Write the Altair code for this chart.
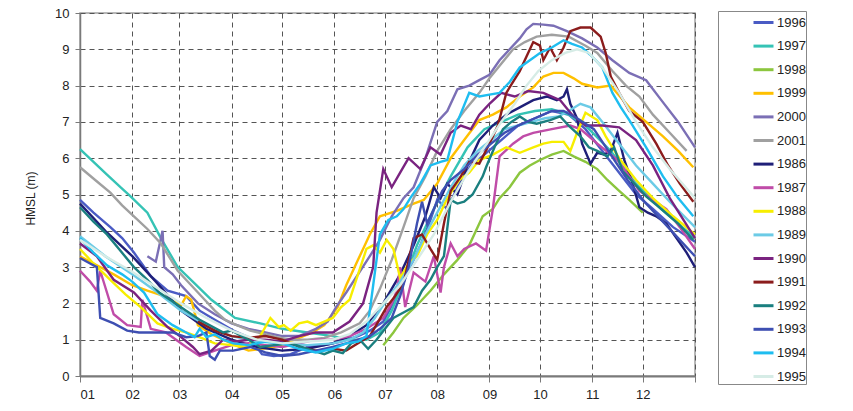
import altair as alt
import pandas as pd

# ---------------- data (day of year, HMSL in m) ----------------
years = ["1996", "1997", "1998", "1999", "2000", "2001", "1986", "1987",
         "1988", "1989", "1990", "1991", "1992", "1993", "1994", "1995"]
colors = ["#4a5bc4", "#35c3b5", "#8cc63e", "#ffc000", "#7b6fb5", "#a0a0a0",
          "#1f1f78", "#c04ca8", "#f7ee00", "#6ccbe6", "#7a2380", "#8b1c1c",
          "#1a7f7f", "#3e4fb2", "#1ebdf0", "#d6ece6"]

month_starts = [0, 31, 59, 90, 120, 151, 181, 212, 243, 273, 304, 334, 365]
month_labels = ["01", "02", "03", "04", "05", "06", "07", "08", "09", "10", "11", "12", ""]

days_1996 = [0, 8, 18, 25, 32, 42, 52, 63, 71, 80, 91, 101, 108, 115, 125, 135, 145, 155, 165, 172, 180,
             188, 196, 202, 208, 212, 218, 224, 232, 240, 250, 260, 270, 280, 290, 300, 310, 320, 330, 340, 352, 365]
hmsl_1996 = [4.85, 4.5, 4.1, 3.8, 3.4, 2.75, 2.35, 2.2, 1.8, 1.55, 1.25, 1.05, 0.6, 0.55, 0.6, 0.8, 0.85, 0.95, 1.1, 1.25, 1.5,
             2.2, 3.0, 3.6, 4.3, 4.85, 4.6, 5.2, 5.8, 6.1, 6.5, 6.9, 7.1, 7.3, 7.2, 6.8, 6.2, 5.6, 5.0, 4.6, 4.1, 3.7]

days_1997 = [0, 8, 16, 24, 30, 40, 48, 58, 68, 78, 92, 107, 120, 135, 150, 160, 170, 178, 185, 192, 200, 210,
             220, 230, 240, 250, 260, 270, 280, 290, 300, 315, 330, 345, 365]
hmsl_1997 = [6.25, 5.9, 5.55, 5.2, 4.95, 4.5, 3.8, 3.0, 2.55, 2.1, 1.6, 1.45, 1.3, 1.2, 1.1, 1.0, 1.0, 1.2, 1.8, 2.6, 3.6, 4.6,
             5.5, 6.3, 6.8, 7.0, 7.2, 7.3, 7.35, 7.2, 6.9, 6.2, 5.3, 4.6, 3.8]

days_1998 = [180, 186, 192, 200, 208, 216, 224, 231, 239, 245, 249, 255, 261, 267, 273, 280, 287, 293, 300, 307,
             313, 320, 326, 334]
hmsl_1998 = [0.85, 1.2, 1.6, 1.95, 2.35, 2.8, 3.2, 3.6, 4.4, 4.6, 4.9, 5.2, 5.6, 5.8, 5.95, 6.1, 6.2, 6.05, 5.9, 5.7,
             5.4, 5.1, 4.85, 4.5]

days_1999 = [0, 10, 20, 31, 40, 50, 60, 63, 66, 70, 78, 85, 92, 100, 108, 115, 122, 130, 138, 145, 153, 158, 165,
             172, 178, 188, 198, 204, 212, 220, 228, 237, 245, 253, 261, 269, 275, 281, 287, 293, 298, 307, 315,
             326, 336, 346, 355, 364]
hmsl_1999 = [3.3, 3.05, 2.8, 2.5, 2.35, 2.2, 1.95, 2.2, 2.1, 1.4, 1.15, 1.0, 0.85, 0.7, 0.75, 0.8, 0.9, 1.05, 1.2,
             1.4, 1.9, 2.5, 3.2, 3.9, 4.4, 4.55, 4.75, 4.85, 5.3, 6.0, 6.5, 7.05, 7.2, 7.4, 7.7, 7.95, 8.25, 8.35,
             8.35, 8.2, 8.05, 7.95, 8.0, 7.4, 7.0, 6.6, 6.2, 5.75]

days_2000 = [40, 45, 49, 50, 55, 60, 70, 80, 90, 100, 110, 120, 130, 140, 147, 152, 158, 165, 172, 178, 185, 192,
             198, 205, 212, 218, 224, 231, 237, 243, 249, 255, 261, 265, 269, 275, 281, 289, 298, 307, 316, 326,
             336, 345, 355, 365]
hmsl_2000 = [3.3, 3.15, 4.0, 3.0, 2.8, 2.5, 2.0, 1.7, 1.45, 1.3, 1.2, 1.1, 1.1, 1.3, 1.5, 1.9, 2.3, 2.8, 3.3, 3.75,
             4.4, 4.9, 5.2, 6.0, 7.0, 7.3, 7.9, 8.0, 8.15, 8.3, 8.7, 9.0, 9.3, 9.55, 9.7, 9.68, 9.65, 9.5, 9.3, 9.05,
             8.7, 8.35, 8.15, 7.6, 7.0, 6.3]

days_2001 = [0, 9, 18, 25, 32, 40, 48, 58, 66, 74, 80, 86, 93, 101, 110, 117, 125, 135, 145, 155, 166, 172, 178,
             185, 192, 198, 205, 212, 220, 228, 237, 243, 250, 257, 264, 271, 280, 290, 300, 307, 316, 324, 332,
             340, 350, 360]
hmsl_2001 = [5.75, 5.4, 5.05, 4.7, 4.4, 4.05, 3.65, 2.9, 2.5, 2.1, 1.8, 1.55, 1.4, 1.25, 1.15, 1.07, 1.0, 1.0, 1.05,
             1.2, 1.45, 1.8, 2.4, 3.2, 4.1, 4.9, 5.5, 6.2, 6.8, 7.3, 7.8, 8.2, 8.6, 9.0, 9.2, 9.35, 9.4, 9.35, 9.1,
             8.9, 8.4, 8.0, 7.7, 7.2, 6.7, 6.2]

days_1986 = [0, 15, 31, 45, 60, 75, 90, 105, 120, 135, 150, 160, 170, 180, 190, 198, 205, 210, 214, 218, 224, 230,
             237, 245, 253, 261, 269, 277, 283, 287, 289, 291, 295, 298, 303, 307, 311, 315, 319, 323, 328, 332,
             337, 342, 348, 354, 360, 365]
hmsl_1986 = [4.75, 4.0, 3.3, 2.6, 1.8, 1.3, 1.0, 0.8, 0.7, 0.75, 0.9, 1.1, 1.4, 2.0, 2.8, 3.6, 4.4, 5.2, 4.9, 5.3,
             5.0, 5.8, 6.5, 6.9, 7.2, 7.4, 7.6, 7.7, 7.6, 7.7, 7.9, 7.5, 7.1, 6.4, 5.85, 6.15, 6.1, 6.2, 6.7, 5.95,
             5.3, 4.65, 4.5, 4.4, 4.2, 3.8, 3.4, 3.0]

days_1987 = [0, 6, 10, 12, 20, 28, 36, 37, 42, 51, 57, 63, 71, 80, 90, 100, 110, 120, 130, 140, 150, 160, 170, 180,
             185, 188, 190, 193, 198, 205, 210, 214, 216, 220, 224, 228, 235, 241, 245, 249, 257, 263, 269, 280,
             291, 297, 307, 319, 326, 332, 340, 348, 356, 365]
hmsl_1987 = [2.9, 2.6, 2.35, 2.9, 1.7, 1.4, 1.35, 2.1, 1.3, 1.2, 1.0, 0.8, 0.55, 0.7, 0.85, 0.9, 0.85, 0.8, 0.9, 1.0,
             1.0, 1.1, 1.3, 1.6, 2.0, 2.35, 3.0, 1.9, 2.85, 2.6, 3.3, 2.3, 3.0, 3.65, 3.3, 3.5, 3.65, 3.45, 4.6, 6.05,
             6.4, 6.6, 6.7, 6.8, 6.9, 6.8, 6.4, 5.95, 5.5, 5.1, 4.85, 4.6, 4.1, 3.5]

days_1988 = [0, 8, 18, 27, 36, 46, 55, 63, 72, 80, 90, 99, 107, 113, 118, 121, 125, 130, 135, 140, 145, 150, 155,
             160, 165, 170, 174, 178, 182, 186, 190, 195, 200, 206, 212, 218, 225, 231, 237, 245, 253, 261, 269,
             275, 280, 287, 291, 295, 300, 307, 312, 320, 330, 340, 352, 365]
hmsl_1988 = [3.5, 3.1, 2.65, 2.25, 1.9, 1.45, 1.3, 1.2, 1.05, 0.9, 0.85, 0.8, 1.1, 1.6, 1.35, 1.4, 1.25, 1.45, 1.5,
             1.4, 1.5, 1.6, 1.9, 2.1, 2.8, 3.5, 3.6, 3.4, 3.75, 3.5, 2.7, 3.1, 3.3, 3.9, 4.3, 4.9, 5.4, 5.6, 5.95,
             6.1, 6.3, 6.15, 6.3, 6.4, 6.45, 6.45, 6.2, 6.7, 7.25, 7.05, 6.6, 6.0, 5.4, 4.9, 4.4, 3.9]

days_1989 = [0, 15, 31, 46, 60, 75, 90, 105, 120, 135, 150, 160, 168, 175, 182, 190, 198, 205, 212, 220, 228, 236,
             244, 252, 260, 268, 276, 284, 290, 297, 303, 310, 320, 330, 340, 350, 365]
hmsl_1989 = [3.85, 3.3, 2.8, 2.3, 1.8, 1.4, 1.1, 0.95, 0.9, 0.85, 0.9, 1.0, 1.2, 1.6, 2.1, 2.6, 3.2, 3.9, 4.5, 5.2,
             5.8, 6.2, 6.5, 6.8, 6.9, 7.0, 7.1, 7.15, 7.3, 7.5, 7.4, 7.0, 6.4, 5.8, 5.3, 4.8, 4.1]

days_1990 = [0, 10, 20, 32, 42, 52, 60, 67, 71, 78, 85, 92, 100, 110, 120, 130, 140, 150, 160, 168, 174, 176, 180,
             185, 190, 195, 202, 208, 214, 220, 226, 232, 237, 243, 250, 258, 266, 275, 285, 292, 300, 310, 320,
             330, 340, 350, 365]
hmsl_1990 = [3.65, 3.3, 2.65, 2.3, 1.8, 1.35, 1.07, 0.8, 0.6, 0.7, 1.0, 0.95, 1.0, 1.0, 0.95, 1.1, 1.2, 1.2, 1.5,
             2.0, 3.0, 4.5, 5.7, 5.2, 5.6, 6.0, 5.7, 6.3, 6.1, 6.7, 6.9, 6.8, 7.2, 7.5, 7.8, 7.7, 7.85, 7.8, 7.6,
             7.2, 6.9, 6.9, 6.85, 6.5, 5.8, 4.9, 3.8]

days_1991 = [70, 80, 90, 100, 110, 120, 130, 140, 150, 158, 165, 172, 177, 182, 187, 192, 198, 203, 208, 212, 216,
             220, 226, 231, 237, 243, 248, 253, 257, 261, 265, 269, 273, 275, 279, 283, 287, 291, 297, 303, 309,
             312, 315, 320, 326, 334, 342, 349, 356, 364]
hmsl_1991 = [1.5, 1.25, 1.1, 1.05, 1.1, 1.0, 0.8, 0.7, 0.75, 0.7, 0.9, 1.1, 1.5, 1.9, 2.2, 2.55, 3.8, 3.9, 3.5, 3.2,
             4.2, 5.1, 5.5, 5.9, 5.85, 6.4, 6.9, 7.8, 8.1, 8.4, 8.8, 9.2, 9.1, 8.7, 9.05, 8.7, 9.05, 9.5, 9.6, 9.6,
             9.35, 8.9, 8.25, 7.8, 7.3, 7.0, 6.4, 5.8, 5.3, 4.8]

days_1992 = [0, 8, 16, 24, 32, 40, 47, 55, 63, 71, 79, 85, 90, 100, 107, 115, 125, 135, 145, 150, 156, 161, 166,
             171, 176, 181, 186, 192, 198, 203, 208, 212, 216, 220, 224, 228, 233, 239, 241, 246, 251, 256, 261,
             266, 271, 279, 285, 290, 297, 302, 307, 313, 317, 322, 327, 336, 345, 355, 364]
hmsl_1992 = [4.65, 4.25, 3.9, 3.45, 3.0, 2.65, 2.3, 2.05, 1.8, 1.55, 1.35, 1.2, 1.25, 1.0, 0.8, 0.85, 0.9, 0.75,
             0.6, 0.7, 0.63, 0.9, 1.0, 0.75, 1.0, 1.3, 1.6, 1.75, 1.9, 2.35, 2.65, 3.0, 3.3, 4.85, 4.75, 4.8, 5.0,
             5.5, 5.75, 6.3, 6.8, 7.0, 7.15, 7.0, 6.95, 7.05, 7.15, 6.9, 6.6, 6.3, 6.2, 6.05, 6.3, 5.65, 5.4, 4.95,
             4.6, 4.2, 3.75]

days_1993 = [0, 6, 10, 12, 20, 28, 35, 42, 50, 55, 63, 70, 75, 77, 80, 83, 91, 101, 110, 120, 130, 140, 150, 158,
             165, 172, 178, 185, 190, 195, 200, 203, 206, 210, 215, 220, 228, 236, 244, 252, 260, 270, 280, 287,
             295, 305, 315, 325, 335, 345, 355, 365]
hmsl_1993 = [3.25, 3.1, 3.0, 1.6, 1.45, 1.25, 1.2, 1.2, 1.2, 1.2, 1.07, 1.1, 1.2, 0.55, 0.45, 0.7, 0.7, 0.8, 0.65,
             0.55, 0.6, 0.7, 0.8, 0.9, 1.0, 1.1, 1.3, 1.6, 2.2, 3.0, 4.2, 4.8, 4.2, 4.6, 5.1, 5.4, 5.7, 6.1, 6.4,
             6.7, 6.9, 7.1, 7.3, 7.3, 7.1, 6.8, 6.1, 5.4, 4.8, 4.3, 3.8, 3.3]

days_1994 = [0, 8, 16, 25, 31, 38, 46, 55, 63, 68, 71, 75, 80, 85, 91, 100, 110, 120, 130, 140, 150, 158, 165, 170,
             174, 178, 183, 188, 192, 196, 202, 208, 214, 218, 224, 231, 237, 243, 249, 255, 261, 267, 273, 280,
             287, 292, 298, 304, 310, 316, 321, 326, 336, 346, 355, 364]
hmsl_1994 = [3.8, 3.4, 3.05, 2.8, 2.6, 2.3, 1.7, 1.4, 1.2, 1.07, 1.3, 1.07, 1.15, 1.0, 0.9, 0.85, 0.95, 0.9, 0.75,
             0.65, 0.75, 0.9, 0.95, 1.1, 2.5, 3.9, 4.3, 4.4, 4.6, 4.9, 5.3, 5.8, 5.9, 5.95, 7.0, 7.8, 7.7, 7.75,
             7.8, 8.1, 8.5, 8.7, 8.9, 9.05, 9.25, 9.15, 9.05, 8.8, 8.5, 7.8, 7.4, 7.05, 6.3, 5.5, 4.9, 4.4]

days_1995 = [0, 15, 30, 45, 60, 75, 90, 105, 120, 135, 150, 160, 170, 180, 190, 200, 210, 220, 230, 240, 250, 258,
             265, 272, 280, 288, 295, 302, 310, 320, 330, 340, 350, 365]
hmsl_1995 = [3.75, 3.3, 2.9, 2.45, 2.0, 1.6, 1.25, 1.0, 0.9, 0.95, 1.0, 1.15, 1.5, 2.0, 2.5, 3.2, 3.9, 4.8, 5.6,
             6.3, 7.0, 7.5, 8.0, 8.4, 8.7, 8.9, 9.0, 8.9, 8.5, 7.8, 7.0, 6.3, 5.7, 4.9]

series = {
    "1996": (days_1996, hmsl_1996), "1997": (days_1997, hmsl_1997), "1998": (days_1998, hmsl_1998),
    "1999": (days_1999, hmsl_1999), "2000": (days_2000, hmsl_2000), "2001": (days_2001, hmsl_2001),
    "1986": (days_1986, hmsl_1986), "1987": (days_1987, hmsl_1987), "1988": (days_1988, hmsl_1988),
    "1989": (days_1989, hmsl_1989), "1990": (days_1990, hmsl_1990), "1991": (days_1991, hmsl_1991),
    "1992": (days_1992, hmsl_1992), "1993": (days_1993, hmsl_1993), "1994": (days_1994, hmsl_1994),
    "1995": (days_1995, hmsl_1995),
}

rows = []
for y in years:
    d, v = series[y]
    for i, (dd, vv) in enumerate(zip(d, v)):
        rows.append({"year": y, "day": dd, "hmsl": vv, "idx": i})
df = pd.DataFrame(rows)

label_expr = "{}[indexof({}, datum.value)]".format(
    "[" + ",".join("'%s'" % s for s in month_labels) + "]",
    "[" + ",".join(str(m) for m in month_starts) + "]",
)

nbsp = "\u00a0" * 11

chart = alt.Chart(df).mark_line(strokeWidth=2.4).encode(
    x=alt.X("day:Q",
            scale=alt.Scale(domain=[0, 365], nice=False, zero=True),
            axis=alt.Axis(values=month_starts, labelExpr=label_expr, title=None,
                          grid=True, gridDash=[5, 4], gridColor="#555555", gridWidth=1,
                          domainColor="#7a7a7a", domainWidth=2, tickColor="#7a7a7a",
                          tickSize=6, labelPadding=6, labelFontSize=13, labelColor="#222222")),
    y=alt.Y("hmsl:Q",
            scale=alt.Scale(domain=[0, 10], nice=False),
            axis=alt.Axis(values=list(range(0, 11)), title="HMSL (m)",
                          grid=True, gridDash=[5, 4], gridColor="#555555", gridWidth=1,
                          domainColor="#7a7a7a", domainWidth=1.5, tickColor="#7a7a7a",
                          tickSize=5, labelPadding=6, labelFontSize=13, labelColor="#222222",
                          titleFontSize=12, titleFontWeight="normal", titleColor="#222222",
                          titleX=-50, titleY=185, titleAngle=-90, titleAlign="center",
                          titleBaseline="middle")),
    color=alt.Color("year:N",
                    scale=alt.Scale(domain=years, range=colors),
                    legend=alt.Legend(title=None, orient="none", legendX=638, legendY=-2,
                                      symbolType="stroke", symbolSize=400, symbolStrokeWidth=3,
                                      symbolOffset=34, labelFontSize=13, labelColor="#222222",
                                      labelOffset=2, rowPadding=4.6, padding=0,
                                      strokeColor="#888888", fillColor="white",
                                      labelExpr="datum.label + '" + nbsp + "'")),
    order=alt.Order("idx:Q"),
).properties(
    width=615, height=363,
    autosize=alt.AutoSizeParams(type="none"),
    padding={"left": 80, "top": 13, "right": 158, "bottom": 35},
).configure(
    font="Liberation Sans",
).configure_view(
    stroke="#a0a0a0", strokeWidth=1.5,
)

chart.save("out.html", embed_options={"renderer": "svg", "actions": False})
